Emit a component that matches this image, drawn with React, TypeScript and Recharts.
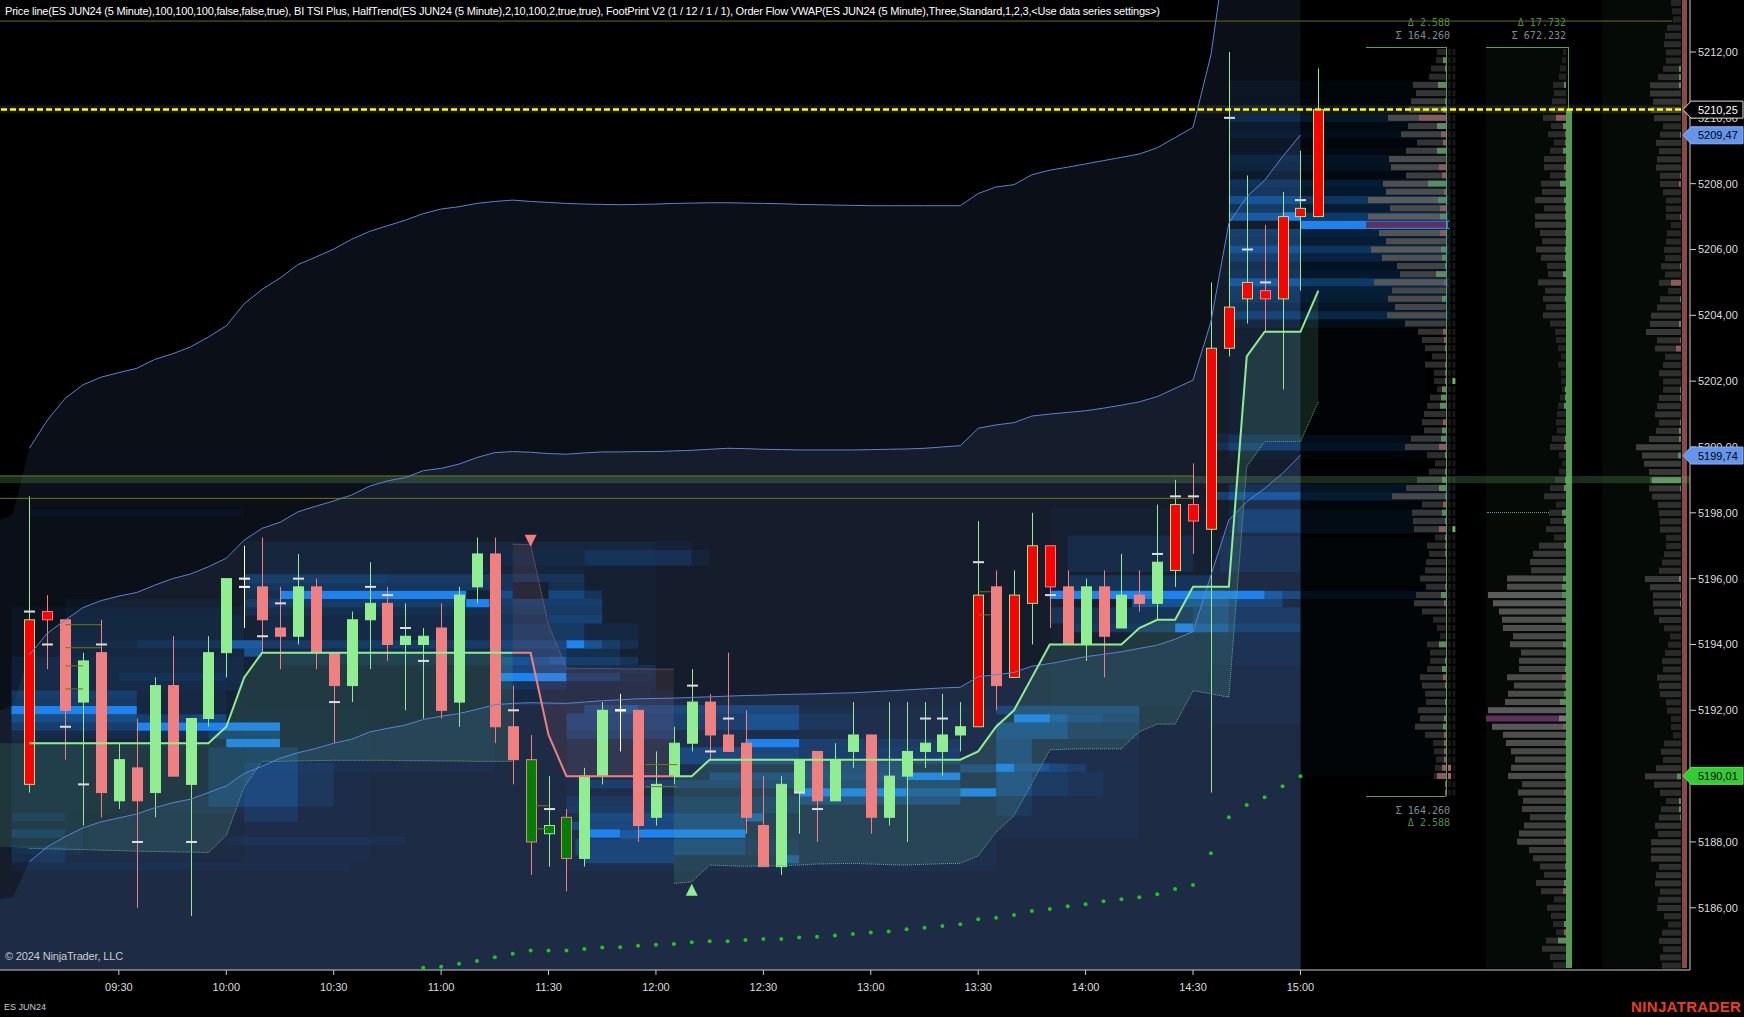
import React from "react";
import { ComposedChart, BarChart, Bar, Line, Area, Cell, XAxis, YAxis, ReferenceArea, ReferenceLine } from "recharts";

const FONT = '"Liberation Sans", Arial, sans-serif';
const W = 1744, H = 1017;
const Y_DOMAIN: [number, number] = [5184.11, 5213.58];
const X_DOMAIN: [number, number] = [536.8, 1008.8];
const timeTicks = [570, 600, 630, 660, 690, 720, 750, 780, 810, 840, 870, 900];
const priceTicks = [5186, 5188, 5190, 5192, 5194, 5196, 5198, 5200, 5202, 5204, 5206, 5208, 5210, 5212, 5209.47, 5199.74, 5190.01, 5210.25];

const highs = [5198.5,5195.5,5194.75,5193.75,5194.75,5191,5191.75,5193,5194.25,5191.75,
5194.25,5196,5197,5197.25,5195.75,5196.75,5196,5193.75,5195,5196.5,
5195.75,5195.25,5194.5,5195.25,5195.75,5197.25,5197.25,5192.75,5191.25,5190,
5189,5190.25,5192.25,5192.5,5192,5190.75,5191.5,5193.25,5192.5,5193.75,
5192,5190,5190,5190.5,5190.75,5191,5192.25,5191.25,5192.25,5192.25,
5192.25,5192.5,5192.25,5197.75,5196.25,5196.25,5198,5197,5196.25,5196,
5196.25,5196.75,5196.25,5198.25,5199,5199.5,5205,5212,5208.25,5206.75,
5207.75,5209,5211.5];
const lows = [5189.5,5193.25,5190.5,5188.5,5188.75,5189,5186,5188.75,5190,5185.75,
5191.5,5193,5194.5,5193.75,5193.25,5194,5193.25,5191,5192.25,5193.25,
5193.5,5192,5191.75,5191.75,5191.5,5195.25,5191,5189.75,5187,5187.25,
5186.5,5187.25,5189.75,5190.75,5188,5188.5,5189.75,5190.75,5190.5,5190.75,
5188.25,5187.25,5187,5188.25,5188,5189.25,5190.25,5188.25,5188.5,5188,
5190.25,5190,5190.75,5191.5,5192,5193,5194,5194.5,5194,5193.5,
5193,5194.5,5195,5194.75,5195.75,5196.75,5189.5,5202.75,5203.75,5203.5,
5201.75,5204.75,5207];
const bodyTops = [5194.75,5195,5194.75,5193.5,5193.75,5190.5,5190.25,5192.75,5192.75,5191.75,
5193.75,5196,5196,5195.75,5194.5,5195.75,5195.75,5193.75,5194.75,5195.25,
5195.25,5194.25,5194.25,5194.5,5195.5,5196.75,5196.75,5191.5,5190.5,5188.5,
5188.75,5190,5192,5192,5192,5189.75,5191,5192.25,5192.25,5191.25,
5191,5188.5,5189.75,5190.5,5190.75,5190.5,5191.25,5191.25,5190,5190.75,
5191,5191.25,5191.5,5195.5,5195.75,5195.5,5197,5197,5195.75,5195.75,
5195.75,5195.5,5195.5,5196.5,5198.25,5198.25,5203,5204.25,5205,5204.75,
5207,5207.25,5210.25];
const bodyBots = [5189.75,5194.75,5192,5192.25,5189.5,5189.25,5189.25,5189.5,5190,5189.75,
5191.75,5193.75,5195.75,5194.75,5194.25,5194.25,5193.75,5192.75,5192.75,5194.75,
5194,5194,5194,5192,5192.25,5195.75,5191.5,5190.5,5188,5188.25,
5187.5,5187.5,5190,5192,5188.5,5188.75,5190,5191,5191.25,5190.75,
5188.75,5187.25,5187.25,5189.5,5189.25,5189.25,5190.75,5188.75,5188.75,5190,
5190.75,5190.75,5191.25,5191.5,5192.75,5193,5195.25,5195.75,5194,5194,
5194.25,5194.5,5195.25,5195.25,5196.25,5197.75,5197.5,5203,5204.5,5204.5,
5204.5,5207,5207];
const barKinds = "Rrsgsgsgsg" + "ggwssgssgg" + "sggsggssGH" + "Gggwsgggss" + "ssggsggsgg" + "gggRsRRrsg" + "sgsgRrRRRr" + "RRR";
const dashBars =   [0,1,2,3,4,6,9,13,14,15,17,19,20,21,22,27,29,37,38,39,43,44,50,51,53,57,63,64,65,67,68,69,71];
const dashPrices = [5195,5194,5191.5,5189.75,5194,5188,5188,5194.25,5195.25,5196,5192.25,5195.75,5195.5,5194.5,5193.5,5192,5189,5192.75,5190.75,5191.75,5189.5,5189,5191.75,5191.75,5196.5,5195.5,5196.75,5198.5,5198.5,5210,5206,5205,5207.5];

const preTimes = [536.8, 540.4];
const preA = [5197.78, 5197.96];
const preB = [5192, 5192.15];
const preC = [5186.25, 5186.33];
const bandA = [5199.96,5200.81,5201.48,5201.89,5202.12,5202.26,5202.39,5202.66,5202.83,5203.04,
5203.34,5203.68,5204.35,5204.79,5205.13,5205.54,5205.77,5206.01,5206.31,5206.55,
5206.72,5206.89,5207.09,5207.23,5207.3,5207.4,5207.46,5207.5,5207.46,5207.43,
5207.4,5207.38,5207.37,5207.36,5207.37,5207.38,5207.4,5207.41,5207.42,5207.42,
5207.41,5207.4,5207.39,5207.37,5207.36,5207.35,5207.34,5207.33,5207.33,5207.33,
5207.33,5207.33,5207.33,5207.7,5207.9,5207.97,5208.27,5208.41,5208.5,5208.6,
5208.7,5208.8,5208.9,5209.09,5209.4,5209.71,5211.91,5215.7,5216.5,5217,5217.8,5218.5];
const bandB = [5193.68,5194.34,5194.74,5195.12,5195.33,5195.47,5195.58,5195.8,5196,5196.14,
5196.36,5196.62,5197.17,5197.53,5197.71,5198.03,5198.2,5198.36,5198.54,5198.81,
5198.97,5199.07,5199.28,5199.35,5199.48,5199.68,5199.83,5199.86,5199.84,5199.8,
5199.78,5199.82,5199.85,5199.85,5199.86,5199.86,5199.88,5199.9,5199.93,5199.96,
5199.95,5199.93,5199.92,5199.91,5199.91,5199.91,5199.91,5199.92,5199.93,5199.94,
5199.96,5200,5200.04,5200.57,5200.67,5200.74,5200.94,5201,5201.05,5201.1,
5201.18,5201.27,5201.37,5201.53,5201.78,5202.03,5203.8,5206.8,5207.6,5208.1,5208.82,5209.48];
const bandC = [5187.4,5187.85,5188.16,5188.43,5188.61,5188.73,5188.85,5189.04,5189.19,5189.3,
5189.5,5189.7,5190.08,5190.3,5190.54,5190.71,5190.84,5191,5191.12,5191.34,
5191.45,5191.55,5191.72,5191.82,5191.9,5192.03,5192.17,5192.21,5192.23,5192.22,
5192.21,5192.25,5192.29,5192.32,5192.35,5192.36,5192.37,5192.39,5192.41,5192.43,
5192.45,5192.46,5192.48,5192.49,5192.5,5192.52,5192.53,5192.56,5192.59,5192.62,
5192.65,5192.68,5192.7,5193.02,5193.08,5193.15,5193.34,5193.42,5193.52,5193.63,
5193.7,5193.78,5193.88,5193.98,5194.16,5194.39,5196.1,5197.78,5198.34,5198.74,5199.2,5199.75];

const _ = null;
const htUp = [5191,5191,5191,5191,5191,5191,5191,5191,5191,5191,
5191,5191.5,5193,5193.75,5193.75,5193.75,5193.75,5193.75,5193.75,5193.75,
5193.75,5193.75,5193.75,5193.75,5193.75,5193.75,5193.75,5193.75,_,_,
_,_,_,_,_,_,5190,5190,5190.5,5190.5,
5190.5,5190.5,5190.5,5190.5,5190.5,5190.5,5190.5,5190.5,5190.5,5190.5,
5190.5,5190.5,5190.5,5190.75,5191.5,5192,5193,5194,5194,5194,
5194,5194,5194.5,5194.75,5194.75,5195.75,5195.75,5195.75,5202.75,5203.5,5203.5,5203.5,5204.75];
const htUpLow = [5187.8,5187.79,5187.78,5187.77,5187.75,5187.74,5187.72,5187.71,5187.7,5187.69,
5187.68,5188.2,5189.67,5190.45,5190.45,5190.46,5190.47,5190.48,5190.48,5190.48,
5190.48,5190.47,5190.47,5190.46,5190.46,5190.45,5190.45,5190.45,_,_,
_,_,_,_,_,_,5186.74,5186.79,5187.3,5187.28,
5187.26,5187.27,5187.28,5187.3,5187.33,5187.34,5187.35,5187.33,5187.31,5187.3,
5187.32,5187.34,5187.35,5187.58,5188.3,5188.8,5189.78,5190.8,5190.82,5190.83,
5190.83,5190.83,5191.35,5191.58,5191.58,5192.6,5192.5,5192.4,5199.4,5200.16,5200.16,5200.16,5201.37];
const htDownBars = [27,28,29,30,31,32,33,34,35,36];
const htDown = [5193.75,5193.75,5191.25,5190,5190,5190,5190,5190,5190,5190];
const htDownHigh = [5197.05,5197.03,5194.6,5193.28,5193.27,5193.27,5193.26,5193.26,5193.25,5193.25];
const dotBars = [22,23,24,25,26,27,28,29,30,31,32,33,34,35,36,37,38,39,40,41,42,43,44,45,46,47,48,49,50,51,52,53,54,55,56,57,58,59,60,61,62,63,64,65,66,67,68,69,70,71];
const dotPrices = [5184.18,5184.21,5184.3,5184.38,5184.5,5184.6,5184.7,5184.7,5184.7,5184.75,5184.79,5184.8,5184.85,5184.88,5184.9,5184.95,5184.98,5184.98,5185.02,5185.05,5185.05,5185.1,5185.12,5185.16,5185.2,5185.25,5185.28,5185.35,5185.39,5185.45,5185.5,5185.65,5185.7,5185.78,5185.9,5185.96,5186.05,5186.11,5186.2,5186.26,5186.32,5186.41,5186.57,5186.69,5187.66,5188.75,5189.12,5189.36,5189.69,5190];
const arrowDownBar = 28, arrowDownPrice = 5197.15;
const arrowUpBar = 37, arrowUpPrice = 5186.55;

// low price, high price, first bar, last bar, strength
const heatBlocks: number[][] = [
[5188.88,5195.13,-1,12,.05],[5187.13,5188.88,-1,9,.035],[5190.13,5197.13,12,26,.045],[5187.38,5192.13,12,19,.03],
[5187.1,5192.13,30,54,.05],[5192.16,5197.13,26,35,.04],[5188.1,5192.2,54,62,.05],[5192.13,5198.13,57,66,.04],
[5192.37,5192.6,-1,6,.3],[5192.13,5192.37,-1,6,.25],[5191.63,5191.88,-1,6,.45],[5191.38,5191.63,-1,6,.3],[5191.13,5191.38,-1,6,.1],
[5187.63,5191.13,-1,3,.06],[5188.63,5188.88,-1,2,.12],[5188.13,5188.38,-1,2,.18],[5187.38,5187.88,-1,2,.12],
[5191.63,5191.88,6,9,.3],[5191.63,5191.88,9,11,.4],[5191.13,5191.38,6,10,.15],[5191.13,5191.38,10,14,.3],[5190.88,5191.13,6,11,.08],[5191.88,5192.6,6,11,.08],
[5193.88,5194.13,11,13,.6],[5193.63,5193.88,12,13,.5],[5193.88,5194.13,6,11,.2],[5193.88,5194.13,2,6,.1],
[5192.6,5193.63,-1,12,.1],[5192.88,5193.13,5,11,.1],[5193.63,5193.88,2,12,.07],[5194.13,5194.88,2,12,.07],[5194.88,5195.38,2,11,.05],
[5189.07,5190.88,10,12,.22],[5189.07,5190.4,12,15,.33],[5190.4,5190.88,12,15,.22],[5189.07,5190.4,15,17,.12],[5188.6,5189.07,12,15,.15],
[5187.9,5188.15,11,21,.08],[5187.13,5187.38,-1,18,.04],[5197.88,5198.13,0,12,.04],
[5195.85,5196.13,12,20,.3],[5195.85,5196.13,20,26,.25],[5195.64,5195.85,12,26,.22],[5195.38,5195.64,12,14,.15],
[5195.13,5195.38,12,24.5,.28],[5194.88,5195.13,12,26,.15],[5194.13,5194.88,13,26,.1],
[5196.13,5197.1,13,26,.05],[5193.88,5194.13,13,26,.28],[5193.38,5193.88,14,26,.12],
[5196.39,5196.87,31,37,.2],[5196.39,5196.87,26,31,.1],[5196.39,5196.87,37,38,.08],[5196.87,5197.13,26,37,.06],
[5196.14,5196.39,26,31,.05],[5195.9,5196.14,26,31,.2],[5195.64,5195.9,26,27,.2],[5195.64,5195.9,29,31,.15],
[5195.39,5195.64,26,27,.45],[5195.39,5195.64,29,31,.4],[5195.39,5195.64,31,32,.2],[5195.15,5195.39,26,32,.3],[5194.9,5195.15,26,32,.25],
[5194.64,5194.9,29,32,.35],[5194.64,5194.9,26,29,.2],[5194.13,5194.64,26,31,.25],[5194.13,5194.64,31,34,.08],
[5193.87,5194.13,26,30,.4],[5193.87,5194.13,31,32,.5],[5193.87,5194.13,32,33,.3],[5193.87,5194.13,33,34,.15],
[5193.63,5193.87,26,30,.3],[5193.63,5193.87,30,33,.15],[5193.38,5193.63,26,29,.5],[5193.38,5193.63,29,30,.6],[5193.38,5193.63,30,33,.3],[5193.38,5193.63,33,34,.2],
[5193.13,5193.38,26,30,.4],[5193.13,5193.38,30,35,.15],[5192.88,5193.13,30,33,.3],[5192.88,5193.13,33,35,.12],
[5192.63,5192.88,26,30,.2],[5192.63,5192.88,30,35,.1],[5192.16,5192.63,26,30,.1],[5192.16,5192.63,30,36,.08],
[5191.9,5192.16,31,43,.3],[5191.9,5192.16,33,34,.3],[5191.4,5191.9,30,36,.28],[5191.4,5191.9,36,40,.2],[5191.4,5191.9,40,43,.42],[5191.4,5191.9,43,46,.1],
[5191.13,5191.4,30,36,.2],[5190.88,5191.13,43,46.6,.2],[5190.88,5191.13,46.6,52,.15],
[5190.36,5190.88,36,43,.3],[5190.36,5190.88,43,52,.2],[5190.11,5190.36,52,54,.3],[5190.11,5190.36,43,49,.25],
[5189.88,5190.11,38,49,.3],[5189.63,5189.88,31,40,.2],[5189.63,5189.88,40,52,.22],[5189.38,5189.63,49,52,.5],
[5189.13,5189.38,30,36,.12],[5189.13,5189.38,36,43,.15],[5189.13,5189.38,43,52,.3],[5188.87,5189.13,30,43,.15],
[5188.62,5188.87,31,36,.35],[5188.62,5188.87,36,40,.3],[5188.62,5188.87,40,41,.6],[5188.36,5188.62,30,40,.3],
[5188.1,5188.36,33,34,.5],[5187.6,5188.1,30.5,40,.28],[5187.6,5188.1,40,43,.1],[5187.35,5187.6,31,36,.3],[5187.35,5187.6,42,43,.5],
[5195.38,5195.63,69,70,.55],[5195.38,5195.63,70,71,.35],[5195.13,5195.38,61.6,67,.5],[5195.13,5195.38,67,70,.3],
[5194.64,5195.13,65,67,.35],[5194.64,5195.13,57,65,.2],[5194.64,5195.13,67,71,.2],
[5194.37,5194.64,65,67,.55],[5194.37,5194.64,67,71,.3],[5194.37,5194.64,58,64,.25],
[5196.2,5197.3,58,65,.12],[5195.63,5196.1,58,66,.2],[5197.4,5198.1,67.5,71,.2],[5196.2,5197.3,66.5,71,.12],[5198.4,5198.63,66,71,.35],
[5199.9,5200.13,66,71,.2],[5200.13,5200.4,66,71,.1],[5200.4,5203.6,67,71,.05],[5193.38,5194.37,66,71,.1],[5191.6,5193.38,66,71,.05],
[5191.63,5191.88,57,58,.55],[5191.63,5191.88,58,60,.35],[5191.63,5191.88,60,62,.25],
[5191.88,5192.13,54,62,.3],[5191.13,5191.63,54,58,.4],[5191.13,5191.63,58,62,.15],
[5190.13,5190.38,55,57,.45],[5190.13,5190.38,57,58,.3],[5190.13,5190.38,58,59,.2],
[5189.4,5190.13,54,56,.35],[5189.4,5190.13,56,58,.15],[5189.4,5190.13,58,60,.08],[5190.38,5191.13,54,56,.3],[5188.8,5189.4,54,56,.12],
[5190,5197.25,71,79.35,.035],[5195.38,5195.63,71,79.35,.08],[5200.4,5203.6,71,78,.025],
];
const heatPeaks: number[][] = [
[5191.88,5192.13,-1,6],[5191.38,5191.63,6,14],[5190.88,5191.13,11,14],[5195.38,5195.63,14,24.4],[5195.13,5195.38,24.4,25.7],
[5193.88,5194.13,30,31],[5192.88,5193.13,26.3,30],[5188.13,5188.38,31.3,33],[5188.13,5188.38,34,40],[5190.88,5191.13,40,43],[5189.38,5189.63,43,49],
[5189.88,5190.11,49,52],[5189.38,5189.63,52,54],[5190.13,5190.38,54,55],[5191.63,5191.88,55,57],[5195.38,5195.63,57,69],
[5194.37,5194.64,64,65],[5206.88,5207.13,70,71],
];
const heatTailPrices = [5211,5210.75,5210.5,5210.25,5210,5209.75,5209.5,5209.25,5209,5208.75,5208.5,5208.25,5208,5207.75,5207.5,5207.25,5207,5206.75,5206.5,5206.25,5206,5205.75,5205.5,5205.25,5205,5204.75,5204.5,5204.25,5204,5203.75,5200.25,5200,5199.75,5198.75,5198.5,5198.25,5198,5197.75,5197.5];
const heatTailAlpha = [.06,.06,.06,.06,.24,.1,.14,.06,.08,.2,.18,.1,.3,.25,.55,.3,.6,1,.35,.3,.55,.35,.2,.25,.6,.32,.3,.22,.4,.12,.14,.2,.05,.2,.28,.06,.12,.12,.14];

const p1Vol = [9,10,15,17,33,30,35,37, 58,38,45,29,40,57,55,40, 63,60,78,56,78,80,67,60, 75,64,49,46,72,54,58,51, 59,41,28,24,21,14,21,12, 12,9,16,19,22,24,22,35, 41,19,11,17,29,40,54,24, 34,33,32,11,19,17,20,21, 26,20,30,32,24,13,9,6, 19,16,16,19,26,24,21,20, 28,26,31,21,13,12,10,11, 12,1,1];
const p1Delta = [0,3,1,0,8,0,1,3, -27,9,-5,-3,9,0,-7,-4, 18,-2,8,-6,6,0,-6,0, 5,4,1,10,-2,0,4,0, 0,0,-3,-2,1,0,-1,-1, 1,4,5,6,0,-3,4,5, -7,1,0,1,4,7,1,-3, 4,1,-7,1,-1,-1,0,0, 0,-1,5,-2,0,0,0,0, 7,0,1,4,-3,1,0,1, 0,2,3,-2,-2,-2,-2,-4, -9,-1,-1];
const p2Vol = [3,4,6,7,13,12,14,15, 23,15,18,12,16,22,22,16, 25,24,31,22,31,31,26,24, 30,25,19,18,28,21,23,20, 23,16,11,10,8,5,8,5, 5,4,6,8,9,10,9,14, 16,7,4,7,11,16,22,10, 17,16,20,12,27,33,36,35, 59,59,78,73,67,64,63,53, 56,45,47,47,59,52,58,61, 78,80,74,63,60,55,51,55, 58,44,48,43,44,36,42,47, 49,37,33,26,22,30,25,12, 19,15,13,10,20,24,16,13];
const p2Delta = [0,0,0,0,2,0,0,0, -10,3,-1,-1,3,0,-2,-1, 6,0,2,-1,1,0,-1,0, 1,1,0,3,0,0,1,0, 0,0,0,0,0,0,0,0, 0,1,1,2,0,0,0,1, -2,0,0,0,1,2,0,0, 4,2,0,0,2,0,0,0, 3,4,4,0,0,4,0,0, 3,0,0,1,-4,1,2,6, 0,7,-3,0,1,0,0,0, 1,0,-2,0,0,1,0,0, -2,0,0,-1,0,2,-3,0, 0,0,2,-2,8,0,0,0];
const p3Vol = [10,9,8,14,16,17, 15,15,18,23,31,31,28,30, 27,18,21,25,22,24,25,21, 21,18,15,15,15,10,14,15, 17,16,20,16,22,13,21,24, 30,31,35,24,26,16,18,22, 18,18,22,24,26,22,25,32, 45,39,37,32,31,32,29,23, 22,21,21,15,15,17,19,22, 36,31,28,28,27,22,17,11, 13,16,19,18,24,22,21,15, 14,10,10,8,17,20,18,25, 36,27,21,15,20,22,26,23, 30,30,30,22,25,26,21,23, 24,17,13,19,22,18,21,19];
const p3Delta = [0,0,0,0,0,0, 0,0,2,2,2,0,0,0, 0,0,1,0,0,0,0,-1, -2,0,0,0,-1,0,0,0, 0,0,1,0,-10,0,1,0, 0,2,0,-1,-5,0,0,0, 0,1,1,0,0,1,2,2, 0,3,0,0,29,1,0,0, 0,0,0,0,0,0,0,0, 2,0,-1,1,0,0,0,0, 0,0,0,0,0,0,0,0, 0,0,0,0,0,0,0,0, 4,0,0,2,2,1,0,0, 0,0,0,0,0,0,0,0, 0,0,0,0,0,0,0,0];
const imbalanceUp = [5202, 5197.5];
const imbalanceDown = [5190.25, 5190];
const olivePrices = [5194.6,5193.9,5193.35,5192.65,5190.35,5189.68,5189.1,5188.4,5195.6,5194.9];
const oliveFrom = [2,2,2,2,34.4,34.4,28.3,28.3,53,53];
const oliveTo = [4,4,3,3,36.2,36.2,29,29,53.7,53.7];

const tOf = (i: number) => 545 + 5 * i;
const rows: any[] = [];
preTimes.forEach((t, k) => rows.push({ t, a: preA[k], b: preB[k], c: preC[k], htBand: [5187.85, 5191] }));
highs.forEach((h, i) => {
  const r: any = { t: tOf(i), i, range: [lows[i], h], high: h, low: lows[i], top: bodyTops[i], bot: bodyBots[i], kind: barKinds[i] };
  if (i < bandA.length) { r.a = bandA[i]; r.b = bandB[i]; r.c = bandC[i]; r.la = bandA[i]; r.lb = bandB[i]; r.lc = bandC[i]; }
  if (htUp[i] != null) { r.htUp = htUp[i]; r.htUpLow = htUpLow[i]; r.htBand = [htUpLow[i], htUp[i]]; }
  const hd = htDownBars.indexOf(i);
  if (hd >= 0) { r.htDown = htDown[hd]; r.htDownHigh = htDownHigh[hd]; r.htDownBand = [htDown[hd], htDownHigh[hd]]; }
  const dt = dotBars.indexOf(i);
  if (dt >= 0) r.dot = dotPrices[dt];
  const da = dashBars.indexOf(i);
  if (da >= 0) r.dash = dashPrices[da];
  if (i === arrowDownBar) r.arrowDown = arrowDownPrice;
  if (i === arrowUpBar) r.arrowUp = arrowUpPrice;
  rows.push(r);
});

const KIND: any = {
  g: { body: "#90ee90", edge: "#90ee90", wick: "#90ee90" },
  s: { body: "#f08080", edge: "#f08080", wick: "#f08080" },
  R: { body: "#ff0000", edge: "#90ee90", wick: "#90ee90" },
  r: { body: "#ff0000", edge: "#f08080", wick: "#f08080" },
  G: { body: "#008000", edge: "#f08080", wick: "#f08080" },
  H: { body: "#008000", edge: "#90ee90", wick: "#90ee90" },
  w: { body: "#ffffff", edge: "#ffffff", wick: "#ffffff" },
};

function Candle(props: any) {
  const { x, y, width, height, payload } = props;
  if (!payload || payload.kind == null) return <g />;
  const top = Math.min(y, y + height), h = Math.abs(height);
  const at = (p: number) => top + ((payload.high - p) / (payload.high - payload.low)) * h;
  const cx = Math.round(x + width / 2) + 0.5;
  const k = KIND[payload.kind];
  const yT = at(payload.top), yB = at(payload.bot);
  return (
    <g>
      <line x1={cx} x2={cx} y1={top} y2={top + h} stroke={k.wick} strokeWidth={1} />
      {payload.kind === "w" ? (
        <>
          <rect x={cx - 5.5} y={yT - 1} width={11} height={2} fill="#fff" />
          <rect x={cx - 5.5} y={yB - 1} width={11} height={2} fill="#fff" />
        </>
      ) : (
        <rect x={cx - 5} y={yT} width={10} height={Math.max(yB - yT, 1)} fill={k.body} stroke={k.edge} strokeWidth={1} />
      )}
      {payload.dash != null && <rect x={cx - 5.5} y={at(payload.dash) - 1} width={11} height={2} fill="#dddddd" />}
    </g>
  );
}

const TAGS: any = {
  5210.25: { fill: "#000", stroke: "#ddd", text: "#fff" },
  5209.47: { fill: "#6495ed", stroke: "#8fb0ee", text: "#000" },
  5199.74: { fill: "#6495ed", stroke: "#8fb0ee", text: "#000" },
  5190.01: { fill: "#32cd32", stroke: "#6fdc6f", text: "#000" },
};
function PriceTick(props: any) {
  const { x, y, payload } = props;
  const v = payload.value;
  const label = v.toFixed(2).replace(".", ",");
  const tag = TAGS[v];
  if (tag) {
    const l = x - 7;
    const pts = `${l - 8},${y} ${l},${y - 8.5} ${x + 45},${y - 8.5} ${x + 45},${y + 8.5} ${l},${y + 8.5}`;
    return (
      <g>
        <polygon points={pts} fill={tag.fill} stroke={tag.stroke} strokeWidth={1} />
        <text x={x} y={y + 4} fill={tag.text} fontFamily={FONT} fontSize={11}>{label}</text>
      </g>
    );
  }
  return <text x={x} y={y + 4} fill="#dddddd" fontFamily={FONT} fontSize={11}>{label}</text>;
}

const fmtTime = (t: number) => {
  const h = Math.floor(t / 60), m = t % 60;
  return `${String(h).padStart(2, "0")}:${String(m).padStart(2, "0")}`;
};

const grey = (v: number) => {
  const s = Math.round(Math.min(108, 29 + v * 0.8));
  return `rgb(${s},${s},${s})`;
};
const ROW = 8.2275;

function Profile({ vols, deltas, topPrice, right, width, pocRow }: any) {
  const data = vols.map((v: number, i: number) => ({
    price: topPrice - i * 0.25,
    delta: Math.abs(deltas[i]),
    rest: v - Math.abs(deltas[i]),
    sign: deltas[i],
  }));
  const height = vols.length * ROW;
  const top = 52 + (5212 - topPrice) * 32.91 - ROW / 2;
  return (
    <div style={{ position: "absolute", left: right - width, top, width, height }}>
      <BarChart layout="vertical" width={width} height={height} data={data} margin={{ top: 0, right: 0, bottom: 0, left: 0 }} barCategoryGap={1}>
        <XAxis type="number" hide reversed domain={[0, width]} />
        <YAxis type="category" dataKey="price" hide />
        <Bar dataKey="delta" stackId="p" isAnimationActive={false}>
          {data.map((d: any, i: number) => (
            <Cell key={i} fill={i === pocRow ? "#777777" : d.sign > 0 ? "#5f8a5f" : "#8a5c5c"} />
          ))}
        </Bar>
        <Bar dataKey="rest" stackId="p" isAnimationActive={false}>
          {data.map((d: any, i: number) => (
            <Cell key={i} fill={i === pocRow ? "#5f2f5f" : grey(d.rest + d.delta)} />
          ))}
        </Bar>
      </BarChart>
    </div>
  );
}

function ImbalanceColumns() {
  const data = p1Vol.map((_v, i) => {
    const price = 5212 - i * 0.25;
    return { price, a: 3, gap: 1.4, b: 3, up: imbalanceUp.includes(price), down: imbalanceDown.includes(price) };
  });
  const height = data.length * ROW;
  return (
    <div style={{ position: "absolute", left: 1447.7, top: 52 - ROW / 2, width: 8, height }}>
      <BarChart layout="vertical" width={8} height={height} data={data} margin={{ top: 0, right: 0, bottom: 0, left: 0 }} barCategoryGap={1}>
        <XAxis type="number" hide domain={[0, 8]} />
        <YAxis type="category" dataKey="price" hide />
        <Bar dataKey="a" stackId="c" isAnimationActive={false}>
          {data.map((d, i) => <Cell key={i} fill={d.down ? "#b06060" : "#171717"} />)}
        </Bar>
        <Bar dataKey="gap" stackId="c" fill="none" isAnimationActive={false} />
        <Bar dataKey="b" stackId="c" isAnimationActive={false}>
          {data.map((d, i) => <Cell key={i} fill={d.up ? "#66bb66" : "#171717"} />)}
        </Bar>
      </BarChart>
    </div>
  );
}

const txt = (s: string, left: number, top: number, color: string, extra: any = {}) => (
  <div style={{ position: "absolute", left, top, color, whiteSpace: "nowrap", fontFamily: FONT, fontSize: 11, lineHeight: "13px", ...extra }}>{s}</div>
);
const mono = (s: string, rightEdge: number, top: number, color: string) => (
  <div style={{ position: "absolute", left: rightEdge - 120, width: 120, top, color, textAlign: "right", whiteSpace: "pre", fontFamily: '"DejaVu Sans Mono", monospace', fontSize: 10, lineHeight: "12px" }}>{s}</div>
);
const box = (left: number, top: number, width: number, height: number, background: string) => (
  <div style={{ position: "absolute", left, top, width, height, background }} />
);

export default function App() {
  const hiddenAxes = [
    <XAxis key="x" type="number" dataKey="t" domain={X_DOMAIN} hide allowDataOverflow />,
    <YAxis key="y" type="number" domain={Y_DOMAIN} hide allowDataOverflow />,
  ];
  const bgMargin = { top: 0, right: 54, bottom: 47, left: 0 };
  return (
    <div style={{ position: "fixed", left: 0, top: 0, width: W, height: H, background: "#000", overflow: "hidden" }}>
      {box(1486, 47, 82, 921, "#060a06")}
      {box(1602, 0, 88, 968, "#060a06")}

      <div style={{ position: "absolute", left: 0, top: 0 }}>
        <ComposedChart width={W} height={H} data={rows} margin={bgMargin}>
          {hiddenAxes}
          <Area dataKey="a" type="linear" baseValue={Y_DOMAIN[0]} fill="#0b0f18" fillOpacity={1} stroke="none" dot={false} activeDot={false} isAnimationActive={false} />
          <Area dataKey="b" type="linear" baseValue={Y_DOMAIN[0]} fill="#151d2c" fillOpacity={1} stroke="none" dot={false} activeDot={false} isAnimationActive={false} />
          <Area dataKey="c" type="linear" baseValue={Y_DOMAIN[0]} fill="#1d2b45" fillOpacity={1} stroke="none" dot={false} activeDot={false} isAnimationActive={false} />
        </ComposedChart>
      </div>
      <div style={{ position: "absolute", left: 0, top: 0 }}>
        <ComposedChart width={W} height={H} data={rows} margin={bgMargin}>
          {hiddenAxes}
          {heatBlocks.map((b, n) => (
            <ReferenceArea key={"hb" + n} x1={tOf(b[2])} x2={tOf(b[3])} y1={b[0]} y2={b[1]} fill="#1e83ee" fillOpacity={b[4]} stroke="none" />
          ))}
          {heatTailPrices.map((p, n) => (
            <ReferenceArea key={"ht" + n} x1={tOf(67)} x2={tOf(71)} y1={p - 0.125} y2={p + 0.125} fill="#1e83ee" fillOpacity={n === 17 ? 0 : heatTailAlpha[n]} stroke="none" />
          ))}
          {heatTailPrices.map((p, n) => (
            <ReferenceArea key={"hu" + n} x1={tOf(71)} x2={tOf(79.35)} y1={p - 0.125} y2={p + 0.125} fill="#1e83ee" fillOpacity={n === 17 ? 1 : heatTailAlpha[n] * 0.72} stroke="none" />
          ))}
          {heatPeaks.map((b, n) => (
            <ReferenceArea key={"hp" + n} x1={tOf(b[2])} x2={tOf(b[3])} y1={b[0]} y2={b[1]} fill="#1e83ee" fillOpacity={1} stroke="none" />
          ))}
        </ComposedChart>
      </div>

      <Profile vols={p1Vol} deltas={p1Delta} topPrice={5212} right={1445.7} width={100} pocRow={21} />
      <ImbalanceColumns />
      <Profile vols={p2Vol} deltas={p2Delta} topPrice={5212} right={1565.7} width={100} pocRow={81} />
      <Profile vols={p3Vol} deltas={p3Delta} topPrice={5213.5} right={1681} width={60} pocRow={-1} />

      {box(1366, 47, 80, 1, "#5a9a5a")}
      {box(1445.7, 47, 1.2, 749, "#5a9a5a")}
      {box(1366, 796, 80, 1, "#5a9a5a")}
      {box(1486, 47, 82, 1, "#5a9a5a")}
      {box(1568, 47, 1, 62, "#5a9a5a")}
      {box(1566, 109, 5.5, 859, "#559a55")}
      {box(1682, 0, 5.3, 968, "#8b4a4a")}
      <div style={{ position: "absolute", left: 1487, top: 512, width: 62, borderTop: "1px dotted #5f9f5f" }} />

      <div style={{ position: "absolute", left: 0, top: 0 }}>
        <ComposedChart width={W} height={H} data={rows} margin={{ top: 0, right: 0, bottom: 0, left: 0 }}>
          <XAxis type="number" dataKey="t" domain={X_DOMAIN} allowDataOverflow ticks={timeTicks} interval={0} tickFormatter={fmtTime} height={47} stroke="#cccccc" tickSize={5} tickMargin={8} tick={{ fill: "#dddddd", fontSize: 11, fontFamily: FONT }} />
          <YAxis type="number" orientation="right" domain={Y_DOMAIN} allowDataOverflow ticks={priceTicks} interval={0} width={54} stroke="#cccccc" tickSize={6} tickMargin={2} tick={<PriceTick />} />

          <ReferenceArea x1={X_DOMAIN[0]} x2={X_DOMAIN[1]} y1={5198.9} y2={5199.12} fill="#78c878" fillOpacity={0.22} stroke="none" />
          <ReferenceArea x1={X_DOMAIN[0]} x2={X_DOMAIN[1]} y1={5210.13} y2={5210.38} fill="#ffffff" fillOpacity={0.08} stroke="none" />
          <ReferenceLine segment={[{ x: X_DOMAIN[0], y: 5212.94 }, { x: 1003.8, y: 5212.94 }]} stroke="#6b6b10" strokeWidth={1} />
          <ReferenceLine segment={[{ x: X_DOMAIN[0], y: 5199.12 }, { x: tOf(65), y: 5199.12 }]} stroke="#6f7a10" strokeWidth={1} />
          <ReferenceLine segment={[{ x: X_DOMAIN[0], y: 5198.44 }, { x: tOf(65), y: 5198.44 }]} stroke="#6f7a10" strokeWidth={1} />
          {olivePrices.map((p, n) => (
            <ReferenceLine key={"ol" + n} segment={[{ x: tOf(oliveFrom[n]), y: p }, { x: tOf(oliveTo[n]), y: p }]} stroke="#6f7a10" strokeWidth={1} />
          ))}

          <Area dataKey="htBand" type="linear" fill="#5fb08a" fillOpacity={0.17} stroke="none" dot={false} activeDot={false} isAnimationActive={false} />
          <Area dataKey="htDownBand" type="linear" fill="#f08080" fillOpacity={0.1} stroke="none" dot={false} activeDot={false} isAnimationActive={false} />
          <Line dataKey="la" type="linear" stroke="#5b82d2" strokeWidth={1} dot={false} activeDot={false} isAnimationActive={false} />
          <Line dataKey="lb" type="linear" stroke="#5b82d2" strokeWidth={1} dot={false} activeDot={false} isAnimationActive={false} />
          <Line dataKey="lc" type="linear" stroke="#5b82d2" strokeWidth={1} dot={false} activeDot={false} isAnimationActive={false} />
          <Line dataKey="htUpLow" type="linear" stroke="#6aa884" strokeWidth={1} strokeDasharray="1 1" dot={false} activeDot={false} isAnimationActive={false} />
          <Line dataKey="htDownHigh" type="linear" stroke="#a06a70" strokeWidth={1} strokeDasharray="1 1" dot={false} activeDot={false} isAnimationActive={false} />
          <Line dataKey="htUp" type="linear" stroke="#90ee90" strokeWidth={2} dot={false} activeDot={false} isAnimationActive={false} />
          <Line dataKey="htDown" type="linear" stroke="#f08080" strokeWidth={2} dot={false} activeDot={false} isAnimationActive={false} />

          <Bar dataKey="range" barSize={11} shape={<Candle />} isAnimationActive={false} />

          <Line dataKey="dot" stroke="none" isAnimationActive={false} activeDot={false}
            dot={(p: any) => (p.cy == null ? <g key={p.index} /> : <circle key={p.index} cx={p.cx} cy={p.cy} r={2} fill="#22c322" />)} />
          <Line dataKey="arrowDown" stroke="none" isAnimationActive={false} activeDot={false}
            dot={(p: any) => (p.cy == null ? <g key={p.index} /> : <polygon key={p.index} points={`${p.cx - 6},${p.cy - 6} ${p.cx + 6},${p.cy - 6} ${p.cx},${p.cy + 6}`} fill="#f08080" />)} />
          <Line dataKey="arrowUp" stroke="none" isAnimationActive={false} activeDot={false}
            dot={(p: any) => (p.cy == null ? <g key={p.index} /> : <polygon key={p.index} points={`${p.cx - 6},${p.cy + 6} ${p.cx + 6},${p.cy + 6} ${p.cx},${p.cy - 6}`} fill="#90ee90" />)} />

          <ReferenceLine y={5210.25} stroke="#ffff00" strokeWidth={2.5} strokeDasharray="6 3" />
        </ComposedChart>
      </div>

      {txt("Price line(ES JUN24 (5 Minute),100,100,100,false,false,true), BI TSI Plus, HalfTrend(ES JUN24 (5 Minute),2,10,100,2,true,true), FootPrint V2 (1 / 12 / 1 / 1), Order Flow VWAP(ES JUN24 (5 Minute),Three,Standard,1,2,3,<Use data series settings>)", 5, 5, "#ffffff", { letterSpacing: -0.2 })}
      {mono("Δ 2.588", 1450, 17, "#4f8f4f")}
      {mono("Σ 164.260", 1450, 30, "#7f8c96")}
      {mono("Δ 17.732", 1566, 17, "#4f8f4f")}
      {mono("Σ 672.232", 1566, 30, "#7f8c96")}
      {mono("Σ 164.260", 1450, 805, "#7f8c96")}
      {mono("Δ 2.588", 1450, 817, "#4f8f4f")}
      {txt("© 2024 NinjaTrader, LLC", 5, 950, "#cccccc", { letterSpacing: -0.15 })}
      {txt("ES JUN24", 4, 1001, "#cccccc", { fontSize: 9 })}
      {txt("NINJATRADER", 1631, 998, "#e8401c", { fontSize: 15, fontWeight: 700, lineHeight: "17px", letterSpacing: 0.35 })}
    </div>
  );
}
